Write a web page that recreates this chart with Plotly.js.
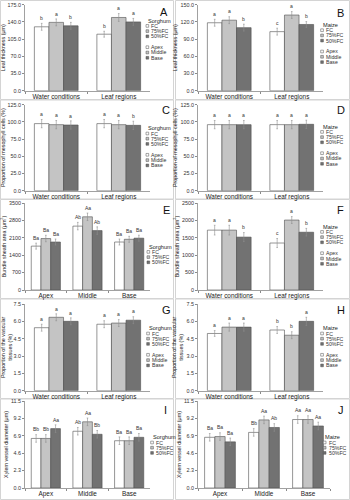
<!DOCTYPE html>
<html><head><meta charset="utf-8">
<script src="https://cdn.plot.ly/plotly-3.0.1.min.js"></script>
<style>html,body{margin:0;padding:0;background:#fff}#chart{width:350px;height:500px}</style>
</head><body><div id="chart"></div>
<script>
// ---------- data ----------
const conditionCats = ['Water conditions', 'Leaf regions'];
const regionCats = ['Apex', 'Middle', 'Base'];
const treatmentNames = ['FC', '75%FC', '50%FC'];
const regionNames = ['Apex', 'Middle', 'Base'];

// A: Sorghum leaf thickness (µm)
const A_FC = [130, 115], A_75FC = [139, 149], A_50FC = [132, 140];
const A_FC_se = [7, 6], A_75FC_se = [7, 8], A_50FC_se = [7, 7];
const A_FC_sig = ['b', 'b'], A_75FC_sig = ['a', 'a'], A_50FC_sig = ['b', 'a'];
// B: Maize leaf thickness (µm)
const B_FC = [118.5, 103], B_75FC = [123, 132], B_50FC = [110, 115.5];
const B_FC_se = [6, 6], B_75FC_se = [6, 6], B_50FC_se = [6, 5];
const B_FC_sig = ['a', 'c'], B_75FC_sig = ['a', 'a'], B_50FC_sig = ['b', 'b'];
// C: Sorghum proportion of mesophyll cells (%)
const C_FC = [97.5, 97.5], C_75FC = [96, 96], C_50FC = [95.5, 95];
const C_FC_se = [6, 6], C_75FC_se = [6, 6], C_50FC_se = [6, 6];
const C_FC_sig = ['a', 'a'], C_75FC_sig = ['a', 'a'], C_50FC_sig = ['a', 'b'];
// D: Maize proportion of mesophyll cells (%)
const D_FC = [96, 96], D_75FC = [96, 96], D_50FC = [96, 96.5];
const D_FC_se = [6, 6], D_75FC_se = [6, 6], D_50FC_se = [6, 6];
const D_FC_sig = ['a', 'a'], D_75FC_sig = ['a', 'a'], D_50FC_sig = ['a', 'a'];
// E: Sorghum bundle sheath area (µm²)
const E_FC = [1765, 2570, 1930], E_75FC = [2070, 2945, 2040], E_50FC = [1930, 2390, 2085];
const E_FC_se = [120, 150, 120], E_75FC_se = [130, 150, 120], E_50FC_se = [120, 150, 120];
const E_FC_sig = ['Ba', 'Ab', 'Ba'], E_75FC_sig = ['Ba', 'Aa', 'Ba'], E_50FC_sig = ['Ba', 'Ab', 'Ba'];
// F: Maize bundle sheath area (µm²)
const F_FC = [1720, 1350], F_75FC = [1720, 2010], F_50FC = [1520, 1660];
const F_FC_se = [140, 130], F_75FC_se = [140, 100], F_50FC_se = [130, 110];
const F_FC_sig = ['a', 'c'], F_75FC_sig = ['a', 'a'], F_50FC_sig = ['b', 'b'];
// G: Sorghum proportion of the vascular tissues (%)
const G_FC = [5.45, 5.75], G_75FC = [6.35, 5.85], G_50FC = [6.0, 6.1];
const G_FC_se = [0.3, 0.3], G_75FC_se = [0.3, 0.3], G_50FC_se = [0.3, 0.3];
const G_FC_sig = ['a', 'a'], G_75FC_sig = ['a', 'a'], G_50FC_sig = ['a', 'a'];
// H: Maize proportion of the vascular tissues (%)
const H_FC = [4.95, 5.25], H_75FC = [5.5, 4.8], H_50FC = [5.5, 6.0];
const H_FC_se = [0.25, 0.3], H_75FC_se = [0.35, 0.3], H_50FC_se = [0.35, 0.35];
const H_FC_sig = ['a', 'b'], H_75FC_sig = ['a', 'b'], H_50FC_sig = ['a', 'a'];
// I: Sorghum xylem vessel diameter (µm)
const I_FC = [6.55, 7.5, 6.25], I_75FC = [6.55, 8.75, 6.25], I_50FC = [7.85, 7.1, 6.7];
const I_FC_se = [0.5, 0.5, 0.5], I_75FC_se = [0.5, 0.5, 0.5], I_50FC_se = [0.5, 0.5, 0.5];
const I_FC_sig = ['Bb', 'Ab', 'Ba'], I_75FC_sig = ['Bb', 'Aa', 'Ba'], I_50FC_sig = ['Aa', 'Bb', 'Ba'];
// J: Maize xylem vessel diameter (µm)
const J_FC = [6.7, 7.35, 9.05], J_75FC = [6.8, 9.0, 9.05], J_50FC = [6.1, 8.0, 8.2];
const J_FC_se = [0.5, 0.5, 0.5], J_75FC_se = [0.5, 0.5, 0.5], J_50FC_se = [0.5, 0.5, 0.5];
const J_FC_sig = ['Ba', 'Bb', 'Aa'], J_75FC_sig = ['Ba', 'Aa', 'Aa'], J_50FC_sig = ['Ba', 'Ab', 'Aa'];

// ---------- layout helpers ----------
const W = 350, H = 500;
const FONT = 'Liberation Sans, Arial, sans-serif';
const bargap = 0.3;
const seriesColors = ['#ffffff', '#c4c4c4', '#727272'];
const edgeColor = '#4f4f4f';
const rowsPx = [[4.7, 90.7], [104.7, 190.7], [203, 290], [304, 390.7], [401, 488]];
const colsPx = [[25, 150], [198, 323]];

const thickT = 'Leaf thickness (μm)';
const mesoT = 'Proportion of mesophyll cells (%)';
const bsT = 'Bundle sheath area (μm<sup>2</sup>)';
const vascT = 'Proportion of the vascular<br>tissues (%)';
const xylT = 'Xylem vessel diameter (μm)';

const panels = [
  {id:'A', row:0, col:0, cats:conditionCats, v:[A_FC,A_75FC,A_50FC], se:[A_FC_se,A_75FC_se,A_50FC_se], sig:[A_FC_sig,A_75FC_sig,A_50FC_sig], ymax:175, dtick:35, fmt:'.1f', yt:thickT, sp:'Sorghum', reg:true, leg:[146,20.7], lp:[164,11.7]},
  {id:'B', row:0, col:1, cats:conditionCats, v:[B_FC,B_75FC,B_50FC], se:[B_FC_se,B_75FC_se,B_50FC_se], sig:[B_FC_sig,B_75FC_sig,B_50FC_sig], ymax:150, dtick:30, fmt:'.1f', yt:thickT, sp:'Maize', reg:true, leg:[320.7,25], lp:[340,13]},
  {id:'C', row:1, col:0, cats:conditionCats, v:[C_FC,C_75FC,C_50FC], se:[C_FC_se,C_75FC_se,C_50FC_se], sig:[C_FC_sig,C_75FC_sig,C_50FC_sig], ymax:125, dtick:25, fmt:'.1f', yt:mesoT, sp:'Sorghum', reg:true, leg:[146,128.3], lp:[166,110]},
  {id:'D', row:1, col:1, cats:conditionCats, v:[D_FC,D_75FC,D_50FC], se:[D_FC_se,D_75FC_se,D_50FC_se], sig:[D_FC_sig,D_75FC_sig,D_50FC_sig], ymax:125, dtick:25, fmt:'.1f', yt:mesoT, sp:'Maize', reg:true, leg:[320.7,126.7], lp:[340.5,110]},
  {id:'E', row:2, col:0, cats:regionCats, v:[E_FC,E_75FC,E_50FC], se:[E_FC_se,E_75FC_se,E_50FC_se], sig:[E_FC_sig,E_75FC_sig,E_50FC_sig], ymax:3500, dtick:700, fmt:'d', yt:bsT, sp:'Sorghum', reg:false, leg:[147,246.7], lp:[166,210]},
  {id:'F', row:2, col:1, cats:conditionCats, v:[F_FC,F_75FC,F_50FC], se:[F_FC_se,F_75FC_se,F_50FC_se], sig:[F_FC_sig,F_75FC_sig,F_50FC_sig], ymax:2500, dtick:500, fmt:'d', yt:bsT, sp:'Maize', reg:true, leg:[320.7,226.7], lp:[340.5,210]},
  {id:'G', row:3, col:0, cats:conditionCats, v:[G_FC,G_75FC,G_50FC], se:[G_FC_se,G_75FC_se,G_50FC_se], sig:[G_FC_sig,G_75FC_sig,G_50FC_sig], ymax:7.5, dtick:1.5, fmt:'.1f', yt:vascT, sp:'Sorghum', reg:true, leg:[146.7,328.3], lp:[166,310]},
  {id:'H', row:3, col:1, cats:conditionCats, v:[H_FC,H_75FC,H_50FC], se:[H_FC_se,H_75FC_se,H_50FC_se], sig:[H_FC_sig,H_75FC_sig,H_50FC_sig], ymax:7.5, dtick:1.5, fmt:'.1f', yt:vascT, sp:'Maize', reg:true, leg:[320.7,328.3], lp:[340.5,310]},
  {id:'I', row:4, col:0, cats:regionCats, v:[I_FC,I_75FC,I_50FC], se:[I_FC_se,I_75FC_se,I_50FC_se], sig:[I_FC_sig,I_75FC_sig,I_50FC_sig], ymax:11.5, dtick:2.3, fmt:'.1f', yt:xylT, sp:'Sorghum', reg:false, leg:[150.7,437.3], lp:[165.5,410]},
  {id:'J', row:4, col:1, cats:regionCats, v:[J_FC,J_75FC,J_50FC], se:[J_FC_se,J_75FC_se,J_50FC_se], sig:[J_FC_sig,J_75FC_sig,J_50FC_sig], ymax:11.5, dtick:2.3, fmt:'.1f', yt:xylT, sp:'Maize', reg:false, leg:[323.3,437.3], lp:[340.5,410], xr:330}
];

const traces = [], annotations = [], shapes = [];
const layout = {
  width: W, height: H, margin: {l:0, r:0, t:0, b:0},
  paper_bgcolor: '#fff', plot_bgcolor: 'rgba(0,0,0,0)',
  barmode: 'group', bargap: bargap, bargroupgap: 0,
  showlegend: false, font: {family: FONT, color: '#222'},
  annotations: annotations, shapes: shapes
};

const px = x => x / W, py = y => 1 - y / H;

// panel frames
const frameRows = [[0.5, 99.5], [100, 199], [199.5, 298.5], [299, 398.5], [399, 499.5]];
const frameCols = [[0.5, 173.5], [175.5, 349.5]];
frameRows.forEach(r => frameCols.forEach(c => shapes.push({type:'rect', xref:'paper', yref:'paper',
  x0: px(c[0]), x1: px(c[1]), y0: py(r[1]), y1: py(r[0]), line:{color:'#d4d4d4', width:1}, layer:'below'})));

function legendEntry(x, y, name, color) {
  shapes.push({type:'rect', xref:'paper', yref:'paper', x0: px(x), x1: px(x + 2.7), y0: py(y + 1.35), y1: py(y - 1.35),
    fillcolor: color, line: {color: edgeColor, width: 0.5}});
  annotations.push({xref:'paper', yref:'paper', x: px(x + 3.3), y: py(y), xanchor:'left', yanchor:'middle',
    text: name, showarrow:false, font:{size:5.2, color:'#333'}});
}

panels.forEach((p, k) => {
  const n = k + 1, xa = 'x' + (n === 1 ? '' : n), ya = 'y' + (n === 1 ? '' : n);
  const xk = 'xaxis' + (n === 1 ? '' : n), yk = 'yaxis' + (n === 1 ? '' : n);
  const c = colsPx[p.col], r = rowsPx[p.row];
  const xr = p.xr || c[1];
  layout[xk] = {domain: [px(c[0]), px(xr)], anchor: ya, type:'category', tickson:'boundaries',
    ticks:'outside', ticklen:2, tickcolor:'#8a8a8a', showline:true, linecolor:'#8a8a8a', linewidth:0.8,
    showgrid:false, zeroline:false, tickfont:{size:6.4, color:'#222'}, fixedrange:true};
  layout[yk] = {domain: [py(r[1]), py(r[0])], anchor: xa, range:[0, p.ymax], tick0:0, dtick:p.dtick,
    tickformat: p.fmt, ticks:'outside', ticklen:2, tickcolor:'#8a8a8a', showline:true, linecolor:'#8a8a8a',
    linewidth:0.8, showgrid:false, zeroline:false, tickfont:{size:5.4, color:'#333'},
    title:{text:p.yt, font:{size:5.4, color:'#222'}, standoff:2}, fixedrange:true};
  const gw = (1 - bargap) / 3;
  p.v.forEach((vals, j) => {
    traces.push({type:'bar', name: treatmentNames[j], x: p.cats, y: vals, xaxis: xa, yaxis: ya,
      marker:{color: seriesColors[j], line:{color: edgeColor, width:0.6}},
      error_y:{type:'data', array: p.se[j], visible:true, color:'#8f8f8f', thickness:0.6, width:0.8},
      hoverinfo:'skip'});
    vals.forEach((v, i) => {
      annotations.push({xref: xa, yref: ya, x: i + (j - 1) * gw, y: v + p.se[j][i], yanchor:'bottom',
        yshift: 0.3, text: p.sig[j][i], showarrow:false, font:{size:5, color:'#333'}});
    });
  });
  // legend
  const [lx, ly] = p.leg;
  annotations.push({xref:'paper', yref:'paper', x: px(lx), y: py(ly), xanchor:'left', yanchor:'middle',
    text: p.sp, showarrow:false, font:{size:5.6, color:'#222'}});
  treatmentNames.forEach((nm, j) => legendEntry(lx, ly + (j + 1) * 5.2, nm, seriesColors[j]));
  if (p.reg) regionNames.forEach((nm, j) => legendEntry(lx, ly + 26.5 + j * 5.3, nm, seriesColors[j]));
  // panel letter
  annotations.push({xref:'paper', yref:'paper', x: px(p.lp[0]), y: py(p.lp[1]), xanchor:'center', yanchor:'middle',
    text: p.id, showarrow:false, font:{size:11, color:'#111'}});
});

Plotly.newPlot('chart', traces, layout, {staticPlot:true, displayModeBar:false});
</script></body></html>
